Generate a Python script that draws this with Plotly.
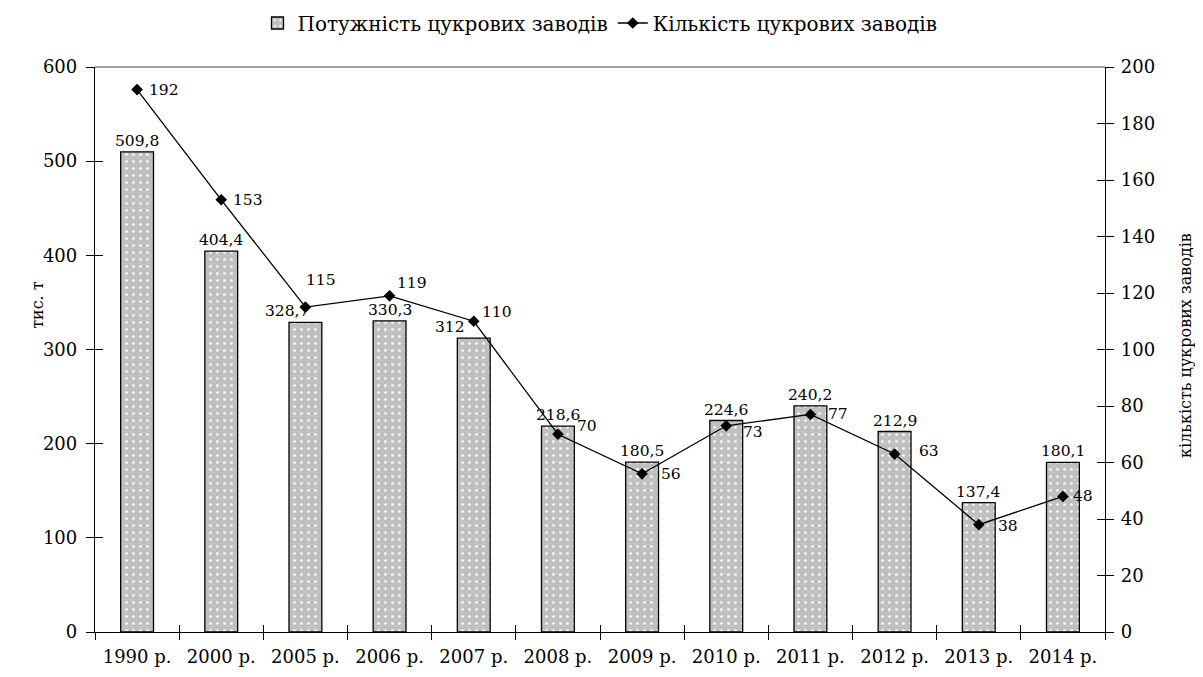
import plotly.graph_objects as go

categories = ["1990 р.", "2000 р.", "2005 р.", "2006 р.", "2007 р.", "2008 р.",
              "2009 р.", "2010 р.", "2011 р.", "2012 р.", "2013 р.", "2014 р."]
capacity = [509.8, 404.4, 328.7, 330.3, 312, 218.6, 180.5, 224.6, 240.2, 212.9, 137.4, 180.1]
plants = [192, 153, 115, 119, 110, 70, 56, 73, 77, 63, 38, 48]

bar_name = "Потужність цукрових заводів"
line_name = "Кількість цукрових заводів"
left_title = "тис. т"
right_title = "кількість цукрових заводів"

FONT = "DejaVu Serif"

# the page adds an 8px offset; the figure is sized to fit inside the window
W, H = 1195, 669


def fmt(v):
    return f"{v:g}".replace(".", ",")


x_range = [-0.5, len(categories) - 0.5]

fig = go.Figure()

fig.add_trace(go.Bar(
    x=categories, y=capacity, name=bar_name, width=0.39,
    marker=dict(color="#c0c0c0", line=dict(color="black", width=1.3),
                pattern=dict(shape=".", fgcolor="white", bgcolor="#c0c0c0",
                             size=7, solidity=0.12, fillmode="replace")),
    yaxis="y", xaxis="x",
))

fig.add_trace(go.Scatter(
    x=categories, y=plants, name=line_name, mode="lines+markers",
    line=dict(color="black", width=1.3),
    marker=dict(symbol="diamond", size=9, color="black"),
    yaxis="y2", xaxis="x",
))

# invisible helper traces for the inner half of cross ticks
fig.add_trace(go.Scatter(x=categories, y=[0] * len(categories), xaxis="x2", yaxis="y3",
                         mode="markers", marker=dict(opacity=0), showlegend=False, hoverinfo="skip"))
fig.add_trace(go.Scatter(x=categories, y=[0] * len(categories), xaxis="x2", yaxis="y4",
                         mode="markers", marker=dict(opacity=0), showlegend=False, hoverinfo="skip"))

label_font = dict(family=FONT, size=15.5, color="black")

bar_xshift = {2: -18, 4: -24}
for i, (c, v) in enumerate(zip(categories, capacity)):
    fig.add_annotation(x=c, y=v, xref="x", yref="y", text=fmt(v), showarrow=False,
                       yanchor="bottom", yshift=0, xshift=bar_xshift.get(i, 0),
                       font=label_font)

# label offsets (px) for the line labels: (dx from point, dy upward)
line_offsets = {0: (10, 0), 1: (10, 0), 2: (-1, 27), 3: (5, 13), 4: (6, 9), 5: (17, 8),
                6: (17, 0), 7: (15, -6), 8: (16, 0), 9: (22, 3), 10: (17, -1), 11: (8, 0)}
for i, (c, v) in enumerate(zip(categories, plants)):
    dx, dy = line_offsets[i]
    fig.add_annotation(x=c, y=v, xref="x", yref="y2", text=str(v), showarrow=False,
                       xanchor="left", yanchor="middle", xshift=dx, yshift=dy,
                       font=label_font)

axis_font = dict(family=FONT, size=18, color="black")
title_font = dict(family=FONT, size=16, color="black")

# axis titles
fig.add_annotation(x=0, y=0.579, xref="paper", yref="paper", text=left_title,
                   showarrow=False, textangle=-90, xanchor="center", yanchor="middle",
                   xshift=-57, font=title_font)
fig.add_annotation(x=1, y=0.506, xref="paper", yref="paper", text=right_title,
                   showarrow=False, textangle=-90, xanchor="center", yanchor="middle",
                   xshift=80, font=title_font)

fig.update_layout(
    width=W, height=H,
    margin=dict(l=87, r=98, t=59, b=45, autoexpand=False),
    paper_bgcolor="white", plot_bgcolor="white",
    font=dict(family=FONT, size=17, color="black"),
    legend=dict(orientation="h", x=0.5, xanchor="center", yref="container",
                y=1 - 15 / H, yanchor="middle",
                font=dict(family=FONT, size=20, color="black"),
                traceorder="normal", itemwidth=30, tracegroupgap=0),
    xaxis=dict(type="category", categoryorder="array", categoryarray=categories,
               range=x_range, autorange=False,
               showline=True, linecolor="black", linewidth=1.3,
               ticks="outside", ticklen=7, tickcolor="black", tickson="boundaries",
               tickfont=axis_font, showgrid=False, zeroline=False, automargin=False,
               ticklabelstandoff=8),
    xaxis2=dict(type="category", categoryorder="array", categoryarray=categories,
                range=x_range, autorange=False,
                overlaying="x", ticks="inside", ticklen=7, tickcolor="black",
                tickson="boundaries", showticklabels=False, showline=False,
                showgrid=False, zeroline=False, anchor="y3", side="bottom"),
    yaxis=dict(range=[0, 600], dtick=100, showline=True, linecolor="black", linewidth=1.3,
               ticks="outside", ticklen=8, tickcolor="black", tickfont=axis_font,
               showgrid=False, zeroline=False, automargin=False, ticklabelstandoff=5),
    yaxis2=dict(range=[0, 200], dtick=20, overlaying="y", side="right",
                showline=True, linecolor="black", linewidth=1.3,
                ticks="outside", ticklen=8, tickcolor="black", tickfont=axis_font,
                showgrid=False, zeroline=False, automargin=False, ticklabelstandoff=3),
    yaxis3=dict(range=[0, 600], dtick=100, overlaying="y", side="left",
                ticks="inside", ticklen=8, tickcolor="black", showticklabels=False,
                showline=False, showgrid=False, zeroline=False),
    yaxis4=dict(range=[0, 200], dtick=20, overlaying="y", side="right",
                ticks="inside", ticklen=8, tickcolor="black", showticklabels=False,
                showline=False, showgrid=False, zeroline=False),
    shapes=[dict(type="line", xref="paper", yref="paper", x0=0, x1=1, y0=1, y1=1,
                 line=dict(color="#808080", width=1.3))],
)

fig.write_html("out.html")
